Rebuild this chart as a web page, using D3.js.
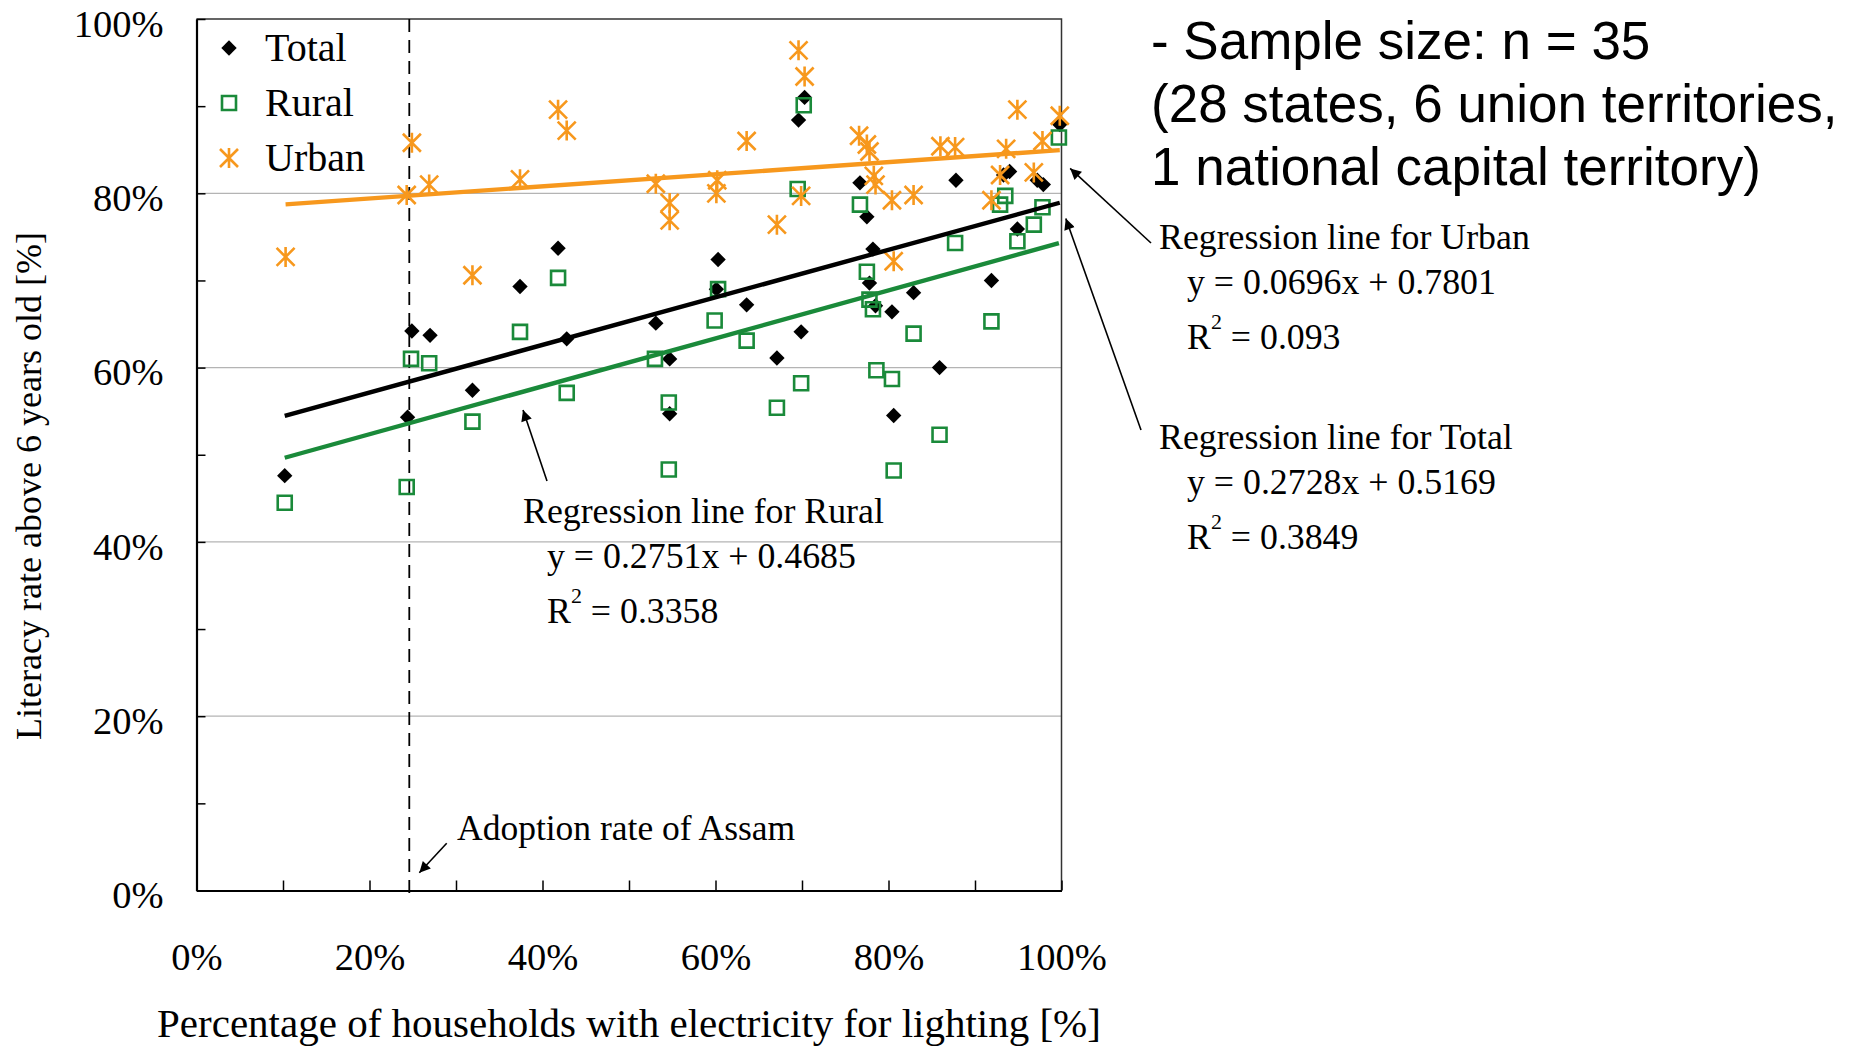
<!DOCTYPE html>
<html>
<head>
<meta charset="utf-8">
<script src="https://cdn.jsdelivr.net/npm/d3@7"></script>
<style>
  body { margin: 0; background: #fff; }
  svg { display: block; }
</style>
</head>
<body>
<div id="chart"></div>
<script>
// values, as fractions (x = electricity share, y = literacy)
const seriesNames = ["Total", "Rural", "Urban"];

const totalPts = [
  [0.102,0.476],[0.244,0.543],[0.249,0.642],[0.270,0.637],[0.319,0.574],
  [0.374,0.693],[0.418,0.737],[0.428,0.633],[0.531,0.651],[0.547,0.610],
  [0.547,0.547],[0.601,0.690],[0.603,0.724],[0.636,0.672],[0.671,0.611],
  [0.696,0.884],[0.699,0.641],[0.703,0.910],[0.767,0.812],[0.775,0.773],
  [0.778,0.697],[0.782,0.736],[0.785,0.671],[0.804,0.664],[0.806,0.545],
  [0.829,0.686],[0.859,0.600],[0.878,0.815],[0.919,0.700],[0.933,0.821],
  [0.940,0.825],[0.949,0.759],[0.972,0.815],[0.979,0.810],[0.998,0.879]
];
const ruralPts = [
  [0.102,0.445],[0.243,0.463],[0.248,0.610],[0.269,0.605],[0.319,0.538],
  [0.374,0.641],[0.418,0.703],[0.428,0.571],[0.530,0.610],[0.546,0.560],
  [0.546,0.483],[0.599,0.654],[0.603,0.690],[0.636,0.631],[0.671,0.554],
  [0.695,0.805],[0.699,0.582],[0.702,0.901],[0.767,0.787],[0.775,0.710],
  [0.778,0.678],[0.782,0.667],[0.786,0.597],[0.804,0.587],[0.806,0.482],
  [0.829,0.639],[0.859,0.523],[0.877,0.743],[0.919,0.653],[0.929,0.787],
  [0.935,0.797],[0.949,0.745],[0.968,0.764],[0.978,0.784],[0.997,0.864]
];
const urbanPts = [
  [0.103,0.727],[0.243,0.798],[0.249,0.858],[0.269,0.810],[0.319,0.706],
  [0.374,0.816],[0.418,0.896],[0.428,0.872],[0.531,0.811],[0.547,0.789],
  [0.547,0.769],[0.601,0.800],[0.602,0.815],[0.636,0.860],[0.671,0.764],
  [0.696,0.964],[0.699,0.797],[0.703,0.934],[0.766,0.866],[0.775,0.856],
  [0.778,0.848],[0.783,0.820],[0.785,0.810],[0.804,0.792],[0.806,0.722],
  [0.829,0.798],[0.860,0.854],[0.877,0.853],[0.919,0.792],[0.929,0.821],
  [0.936,0.851],[0.949,0.896],[0.968,0.824],[0.978,0.860],[0.998,0.889]
];

// regression results printed on the chart
const slopes = [0.2728, 0.2751, 0.0696];
const intercepts = [0.5169, 0.4685, 0.7801];
const r2Values = ["0.3849", "0.3358", "0.093"];

const assamRate = 0.246;
const xTicks = d3.range(0, 11).map(d => d / 10);
const yTicks = d3.range(0, 11).map(d => d / 10);
const gridValues = [0.2, 0.4, 0.6, 0.8];

const allPts = [totalPts, ruralPts, urbanPts];
const colors = ["#000000", "#1a8a3a", "#f7981d"];

const width = 1856, height = 1046;
const margin = {top: 19, right: 794.5, bottom: 155.5, left: 196.5};

const serif = "'Liberation Serif', 'Times New Roman', serif";
const sans = "'Liberation Sans', Arial, sans-serif";

const svg = d3.select("#chart")
  .append("svg")
  .attr("width", width)
  .attr("height", height)
  .style("background", "#fff");

const x = d3.scaleLinear().domain([0, 1]).range([margin.left, width - margin.right]);
const y = d3.scaleLinear().domain([0, 1]).range([height - margin.bottom, margin.top]);

const pct = d3.format(".0%");

// arrow head
svg.append("defs").append("marker")
  .attr("id", "arrow")
  .attr("viewBox", "0 0 10 10")
  .attr("refX", 10).attr("refY", 5)
  .attr("markerUnits", "userSpaceOnUse")
  .attr("markerWidth", 17).attr("markerHeight", 11)
  .attr("orient", "auto")
  .append("path")
  .attr("d", "M0,0L10,5L0,10Z")
  .attr("fill", "#000");

// gridlines
svg.append("g")
  .selectAll("line")
  .data(gridValues)
  .enter()
  .append("line")
  .attr("x1", x(0)).attr("x2", x(1))
  .attr("y1", d => y(d)).attr("y2", d => y(d))
  .attr("stroke", "#b4b4b4")
  .attr("stroke-width", 1.2);

// top and right frame
svg.append("path")
  .attr("d", `M${x(0)},${y(1)}H${x(1)}V${y(0)}`)
  .attr("fill", "none")
  .attr("stroke", "#333")
  .attr("stroke-width", 1.5);

// X axis
const xAxis = svg.append("g")
  .attr("transform", "translate(0," + y(0) + ")")
  .call(d3.axisBottom(x)
    .tickValues(xTicks)
    .tickSizeInner(-10)
    .tickSizeOuter(0)
    .tickPadding(52)
    .tickFormat(d => Math.round(d * 10) % 2 === 0 ? pct(d) : ""));

// Y axis
const yAxis = svg.append("g")
  .attr("transform", "translate(" + x(0) + ",0)")
  .call(d3.axisLeft(y)
    .tickValues(yTicks)
    .tickSizeInner(-9)
    .tickSizeOuter(0)
    .tickPadding(33)
    .tickFormat(d => Math.round(d * 10) % 2 === 0 ? pct(d) : ""));

[xAxis, yAxis].forEach(g => {
  g.select(".domain").attr("stroke", "#000").attr("stroke-width", 2.2);
  g.selectAll(".tick line").attr("stroke", "#000").attr("stroke-width", 1.5);
  g.selectAll("text")
    .attr("font-family", serif)
    .attr("font-size", 38.5)
    .attr("fill", "#000");
});
yAxis.selectAll("text").attr("dy", "0.45em");

// axis titles
svg.append("text")
  .attr("x", (x(0) + x(1)) / 2)
  .attr("y", 1037)
  .attr("text-anchor", "middle")
  .attr("font-family", serif)
  .attr("font-size", 41)
  .text("Percentage of households with electricity for lighting [%]");

svg.append("text")
  .attr("transform", "translate(41,486) rotate(-90)")
  .attr("text-anchor", "middle")
  .attr("font-family", serif)
  .attr("font-size", 36)
  .text("Literacy rate above 6 years old [%]");

// dashed line for Assam
svg.append("line")
  .attr("x1", x(assamRate)).attr("x2", x(assamRate))
  .attr("y1", y(1)).attr("y2", y(0) + 4)
  .attr("stroke", "#000")
  .attr("stroke-width", 1.8)
  .attr("stroke-dasharray", "13,8");

// marker shapes
const star = d3.path();
star.moveTo(-9, -9); star.lineTo(9, 9);
star.moveTo(-9, 9); star.lineTo(9, -9);
star.moveTo(0, -10); star.lineTo(0, 10);

function drawMarker(g, i) {
  if (i === 0) {
    g.append("path")
      .attr("d", d3.symbol(d3.symbolSquare, 118)())
      .attr("transform", "rotate(45)")
      .attr("fill", colors[0]);
  } else if (i === 1) {
    g.append("path")
      .attr("d", d3.symbol(d3.symbolSquare, 196)())
      .attr("fill", "none")
      .attr("stroke", colors[1])
      .attr("stroke-width", 2.6);
  } else {
    g.append("path")
      .attr("d", star.toString())
      .attr("fill", "none")
      .attr("stroke", colors[2])
      .attr("stroke-width", 2.6);
  }
}

// points
allPts.forEach((pts, i) => {
  svg.append("g")
    .selectAll("g")
    .data(pts)
    .enter()
    .append("g")
    .attr("transform", d => "translate(" + x(d[0]) + "," + y(d[1]) + ")")
    .each(function() { drawMarker(d3.select(this), i); });
});

// regression lines over the data range
const line = d3.line().x(d => x(d[0])).y(d => y(d[1]));
allPts.forEach((pts, i) => {
  const ext = d3.extent(pts, d => d[0]);
  const seg = ext.map(v => [v, slopes[i] * v + intercepts[i]]);
  svg.append("path")
    .datum(seg)
    .attr("d", line)
    .attr("fill", "none")
    .attr("stroke", colors[i])
    .attr("stroke-width", 4.4);
});

// legend
const legend = svg.append("g");
seriesNames.forEach((name, i) => {
  const row = legend.append("g").attr("transform", "translate(229," + (48 + i * 55) + ")");
  drawMarker(row, i);
  row.append("text")
    .attr("x", 36)
    .attr("y", 13)
    .attr("font-family", serif)
    .attr("font-size", 40)
    .text(name);
});

// regression annotation blocks
function regBlock(i, label, tx, ty, indent) {
  const g = svg.append("g").attr("font-family", serif).attr("font-size", 35.8).attr("fill", "#000");
  g.append("text").attr("x", tx).attr("y", ty).text("Regression line for " + label);
  g.append("text").attr("x", tx + indent).attr("y", ty + 45)
    .text("y = " + slopes[i] + "x + " + intercepts[i]);
  const r = g.append("text").attr("x", tx + indent).attr("y", ty + 100);
  r.append("tspan").text("R");
  r.append("tspan").attr("dy", -20).attr("font-size", 22).text("2");
  r.append("tspan").attr("dy", 20).text(" = " + r2Values[i]);
}
regBlock(2, "Urban", 1159, 249, 28);
regBlock(0, "Total", 1159, 449, 28);
regBlock(1, "Rural", 523, 523, 24);

svg.append("text")
  .attr("x", 457).attr("y", 840)
  .attr("font-family", serif)
  .attr("font-size", 35.5)
  .text("Adoption rate of Assam");

// arrows (head positions in data units)
const arrows = [
  {from: [1151, 243], to: [1.01, 0.8285]},
  {from: [1141, 430], to: [1.005, 0.771]},
  {from: [547, 481], to: [0.3775, 0.5514]},
  {from: [446.7, 843.3], to: [0.2576, 0.0204]}
];
arrows.forEach(a => {
  svg.append("line")
    .attr("x1", a.from[0]).attr("y1", a.from[1])
    .attr("x2", x(a.to[0])).attr("y2", y(a.to[1]))
    .attr("stroke", "#000")
    .attr("stroke-width", 1.6)
    .attr("marker-end", "url(#arrow)");
});

// sample size note
const note = ["- Sample size: n = 35", "(28 states, 6 union territories,", "1 national capital territory)"];
svg.append("g")
  .selectAll("text")
  .data(note)
  .enter()
  .append("text")
  .attr("x", 1151)
  .attr("y", (d, i) => 59 + i * 63)
  .attr("font-family", sans)
  .attr("font-size", 53)
  .text(d => d);
</script>
</body>
</html>
